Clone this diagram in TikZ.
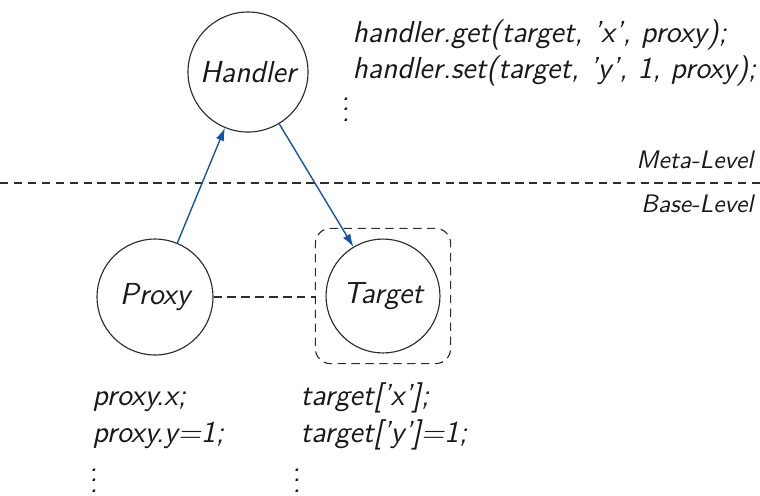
\documentclass[tikz,border=0pt]{standalone}
\usetikzlibrary{arrows.meta,fit}
\definecolor{ink}{RGB}{25,25,25}
\definecolor{linegray}{RGB}{45,45,45}
\definecolor{flowblue}{RGB}{20,84,164}
\begin{document}
\begin{tikzpicture}[x=0.395pt,y=-0.395pt,
  every node/.style={font=\sffamily\slshape\fontsize{12}{14.4}\selectfont, text=ink},
  obj/.style={circle, draw=linegray, line width=0.45pt, inner sep=0pt},
  txt/.style={anchor=base west, inner sep=0pt},
  lvl/.style={anchor=base east, inner sep=0pt, font=\sffamily\slshape\fontsize{10}{12}\selectfont},
  flow/.style={draw=flowblue, line width=0.55pt, -{Latex[length=5pt,width=3.4pt]}},
  sep/.style={draw=linegray, line width=0.45pt, dash pattern=on 3.3pt off 2.2pt}]
\useasboundingbox (0,0) rectangle (760,495);

% objects
\node[obj, minimum size=47.4pt] (handler) at (248,72) {Handler};
\node[obj, minimum size=45.8pt] (proxy) at (155,297) {Proxy};
\node[obj, minimum size=45pt] (target) at (383,296) {Target};
\node[fit=(target), sep, rectangle, rounded corners=6pt, inner sep=4pt] (box) {};

% level separator
\coordinate (sepL) at (0,183);
\coordinate (sepR) at (760,183);
\draw[sep] (sepL) -- (sepR);
\node[lvl] (meta) at (754,168) {Meta-Level};
\node[lvl] (base) at (754,212) {Base-Level};

% traps and forwarding
\draw[flow] (proxy) -- (handler);
\draw[flow] (handler) -- (target);
\draw[sep] (proxy.east) -- (proxy.east -| box.west);

% handler calls
\node[txt] (hget) at (352,42) {handler.get(target, 'x', proxy);};
\node[txt] (hset) at (352,78) {handler.set(target, 'y', 1, proxy);};
\node[txt] (hdots) at (341,121) {$\vdots$};

% proxy operations
\node[txt] (px) at (92,405) {proxy.x;};
\node[txt] (py) at (92,442) {proxy.y=1;};
\node[txt] (pdots) at (89,492) {$\vdots$};

% target operations
\node[txt] (tx) at (300,405) {target['x'];};
\node[txt] (ty) at (300,442) {target['y']=1;};
\node[txt] (tdots) at (292,492) {$\vdots$};
\end{tikzpicture}
\end{document}
